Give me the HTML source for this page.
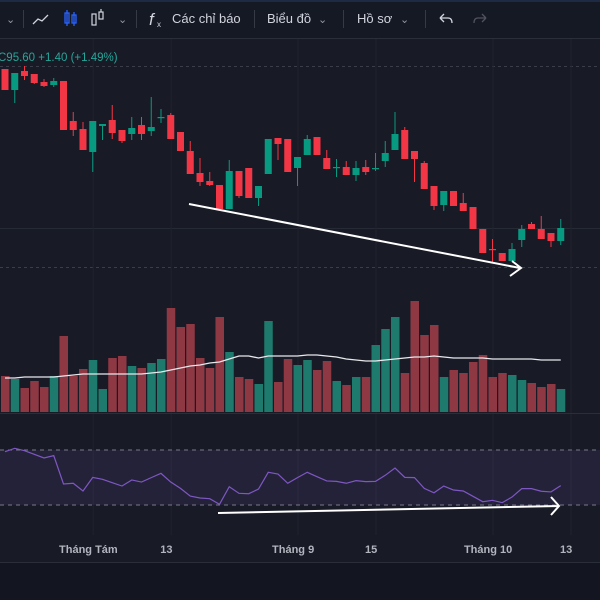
<!DOCTYPE html>
<html><head><meta charset="utf-8">
<style>
html,body{margin:0;padding:0;background:#161a25;width:600px;height:600px;overflow:hidden;font-family:"Liberation Sans","Noto Sans CJK SC",sans-serif}
svg{display:block}
text{font-family:"Liberation Sans","Noto Sans CJK SC",sans-serif}
</style></head>
<body>
<svg id="chart" width="600" height="600" viewBox="0 0 600 600">
  <rect x="0" y="0" width="600" height="600" fill="#161a25"/>
  <rect x="0" y="0" width="600" height="38" fill="#151924"/>
  <rect x="0" y="0" width="600" height="2" fill="#1e2a44"/>
  <line x1="0" y1="38.5" x2="600" y2="38.5" stroke="#2a2e39"/>
  <g fill="#d1d4dc" font-size="13">
    <text x="6" y="23" font-size="11" fill="#9598a1">⌄</text>
    <line x1="23.5" y1="10" x2="23.5" y2="28" stroke="#363a45"/>
    <polyline points="33,24 38,19 42,21 48,15" fill="none" stroke="#d1d4dc" stroke-width="1.3"/>
    <g stroke="#2962ff" fill="none" stroke-width="1.3">
      <rect x="65" y="13" width="4" height="10"/><line x1="67" y1="10" x2="67" y2="26"/>
      <rect x="72" y="15" width="4" height="8"/><line x1="74" y1="12" x2="74" y2="26"/>
    </g>
    <g stroke="#d1d4dc" fill="none" stroke-width="1.2">
      <rect x="92" y="14" width="4" height="11"/><rect x="99" y="12" width="4" height="7"/><line x1="101" y1="9" x2="101" y2="12"/>
    </g>
    <text x="118" y="23" font-size="11" fill="#9598a1">⌄</text>
    <line x1="136.5" y1="10" x2="136.5" y2="28" stroke="#363a45"/>
    <text x="149" y="25" font-size="17" font-style="italic" font-family="Liberation Serif">f</text>
    <text x="157" y="27" font-size="8">x</text>
    <text x="172" y="23">Các chỉ báo</text>
    <line x1="254.5" y1="10" x2="254.5" y2="28" stroke="#363a45"/>
    <text x="267" y="23">Biểu đồ</text>
    <text x="318" y="23" font-size="11" fill="#9598a1">⌄</text>
    <line x1="343.5" y1="10" x2="343.5" y2="28" stroke="#363a45"/>
    <text x="357" y="23">Hồ sơ</text>
    <text x="400" y="23" font-size="11" fill="#9598a1">⌄</text>
    <line x1="425.5" y1="10" x2="425.5" y2="28" stroke="#363a45"/>
    <path d="M440 18 L444 14 M440 18 L444 22 M440 18 L448 18 Q452 18 452 23" fill="none" stroke="#d1d4dc" stroke-width="1.3"/>
    <path d="M486 18 L482 14 M486 18 L482 22 M486 18 L478 18 Q474 18 474 23" fill="none" stroke="#50535e" stroke-width="1.3"/>
  </g>
  <rect x="0" y="39" width="600" height="524" fill="#181b26"/>
  <rect x="0" y="563" width="600" height="37" fill="#131620"/>
  <line x1="0" y1="562.5" x2="600" y2="562.5" stroke="#2a2e39"/>
  <g id="grid"></g>
  <g id="vol"></g>
  <g id="candles"></g>
  <line x1="0" y1="413.5" x2="600" y2="413.5" stroke="#2a2e39"/>
  <g id="rsi"></g>
  <g id="axis"></g>
  <g id="draw"></g>
  <text x="-2" y="61" font-size="11.5" fill="#26a69a"><tspan fill="#26a69a">C95.60</tspan> +1.40 (+1.49%)</text>
</svg>
<script>
// Price data (price units), one entry per session
const opens  = [93.1,91.0,92.9,92.6,91.8,91.5,91.9,87.9,87.1,84.8,87.4,88.0,87.0,86.6,87.5,86.9,88.2,88.5,86.8,84.9,82.7,81.9,81.5,79.1,82.9,83.2,80.2,82.6,86.2,86.1,83.2,84.5,86.3,84.2,83.3,83.3,82.5,83.3,83.2,83.9,85.0,87.0,84.9,83.7,81.4,79.5,80.9,79.7,79.3,77.1,75.1,74.7,73.9,76.0,77.6,77.1,76.7,75.9];
const closes = [91.0,92.7,92.4,91.7,91.4,91.9,87.0,87.0,85.0,87.9,87.6,86.7,85.9,87.2,86.6,87.3,88.3,86.1,84.9,82.6,81.8,81.5,79.1,82.9,80.4,80.2,81.4,86.1,85.6,82.8,84.3,86.1,84.5,83.1,83.3,82.5,83.2,82.8,83.2,84.7,86.6,84.1,84.1,81.1,79.4,80.9,79.4,78.9,77.1,74.7,75.0,73.9,75.1,77.1,77.1,76.1,75.9,77.2];
const highs  = [93.1,92.7,93.4,92.6,92.1,92.2,91.9,88.8,87.8,87.9,87.6,89.5,87.0,88.3,88.3,90.3,89.1,88.7,86.8,85.9,84.2,82.8,81.5,84.0,82.9,83.2,81.4,86.1,86.2,86.1,84.3,86.5,86.3,85.0,84.1,83.9,83.9,84.0,84.7,85.9,88.8,87.3,84.9,83.9,81.4,80.9,80.9,80.7,79.3,77.1,76.1,74.7,75.7,77.5,77.8,78.4,76.7,78.1];
const lows   = [91.0,89.7,92.0,91.6,91.3,91.3,87.0,86.4,85.0,82.8,86.0,86.1,85.7,86.0,86.0,86.4,87.7,86.1,84.9,82.6,81.4,81.4,79.1,79.1,80.2,80.2,79.4,82.6,84.0,82.8,81.4,84.5,84.5,83.1,82.3,82.5,81.9,82.5,82.9,83.3,85.0,84.1,81.8,81.1,79.0,78.9,79.4,78.9,77.1,74.7,73.8,73.9,73.9,75.3,77.1,76.1,75.3,75.5];
const volumes = [36,33,24,31,25,36,76,36,43,52,23,54,56,46,44,49,53,104,85,88,54,44,95,60,35,33,28,91,30,53,47,52,42,51,31,27,35,35,67,83,95,39,111,77,87,35,42,39,50,57,35,39,37,32,29,25,28,23];
const volMA = [34,34,35,35,35,35,36,37,38,38,38,38,38,38,38,39,40,42,44,46,47,49,50,53,56,56,54,56,56,56,56,57,57,56,55,53,52,51,51,52,53,54,55,55,56,55,54,54,54,54,53,53,53,53,53,52,52,52];
const rsiValues = [68.8,71.2,69.5,66.9,64.2,65.9,45.3,45.8,40.2,50.1,48.7,46.2,43.8,48.2,46.7,49.9,53.0,46.7,42.1,36.5,35.1,34.6,30.5,43.3,38.5,38.2,41.6,53.8,52.5,45.8,49.9,53.8,50.6,47.5,47.2,45.8,47.7,47.0,47.2,51.6,56.9,50.1,49.9,42.1,38.9,43.8,40.9,40.2,36.3,32.4,33.4,31.7,35.8,41.9,41.9,40.0,39.5,44.1];
const timeLabels = ["Tháng Tám","13","Tháng 9","15","Tháng 10","13"];
const timeLabelIdx = [9,17,30,38,50,58];
const rsiBands = [70,30];

const NS="http://www.w3.org/2000/svg";
function mk(tag, attrs, parent){const e=document.createElementNS(NS,tag);for(const k in attrs)e.setAttribute(k,attrs[k]);parent.appendChild(e);return e;}
const xAt = i => 5 + i*9.75;
const yPrice = p => (100 - p)*10;
const yVol = v => 412 - v;
const yRsi = r => 505 - (r-30)/40*55;
const UP="#089981", DN="#f23645", VUP="#1e7a6c", VDN="#8e3844";

// grid
const grid=document.getElementById('grid');
[[66,"3 3"],[228,""],[267,"3 3"]].forEach(g=>{
  const l=mk('line',{x1:0,x2:600,y1:g[0]+0.5,y2:g[0]+0.5,stroke:g[1]?"#3a3e4a":"#262a35","stroke-dasharray":g[1]},grid);
  
  
});
timeLabelIdx.forEach(i=>{
  const l=mk('line',{x1:xAt(i)+0.5,x2:xAt(i)+0.5,y1:39,y2:535,stroke:"#1f232e"},grid);
  
  
});

// volume
const vol=document.getElementById('vol');
volumes.forEach((v,i)=>{
  const up=closes[i]>=opens[i];
  const r=mk('rect',{x:xAt(i)-4,y:yVol(v),width:8.5,height:v,fill:up?VUP:VDN},vol);
  
  
});
const vma=mk('polyline',{points:volMA.map((v,i)=>xAt(i)+","+yVol(v)).join(" "),fill:"none",stroke:"#e8e8ec","stroke-width":1.3},vol);



// candles
const cg=document.getElementById('candles');
opens.forEach((o,i)=>{
  const c=closes[i], up=c>=o, col=up?UP:DN, x=xAt(i);
  const g=mk('g',{},cg);
  
  
  mk('line',{x1:x,x2:x,y1:yPrice(highs[i]),y2:yPrice(lows[i]),stroke:col,"stroke-width":1},g);
  const top=Math.min(yPrice(o),yPrice(c)), h=Math.max(1.2,Math.abs(yPrice(o)-yPrice(c)));
  mk('rect',{x:x-3.5,y:top,width:7,height:h,fill:col},g);
});

// rsi
const rg=document.getElementById('rsi');
const band=mk('rect',{x:0,y:yRsi(rsiBands[0]),width:600,height:yRsi(rsiBands[1])-yRsi(rsiBands[0]),fill:"rgba(126,87,194,0.12)"},rg);


rsiBands.forEach(b=>{
  const l=mk('line',{x1:0,x2:600,y1:yRsi(b),y2:yRsi(b),stroke:"#787b86","stroke-dasharray":"4 4","stroke-width":1},rg);
  
  
});
const rl=mk('polyline',{points:rsiValues.map((r,i)=>xAt(i)+","+yRsi(r)).join(" "),fill:"none",stroke:"#7e57c2","stroke-width":1.2},rg);



// time axis
const ax=document.getElementById('axis');
timeLabels.forEach((t,i)=>{
  const tx=mk('text',{x:xAt(timeLabelIdx[i]-0.45),y:553,"text-anchor":"middle","font-size":"11","font-weight":"bold",fill:"#b2b5be"},ax);
  tx.textContent=t;
  
  
});

// drawings (trend arrows)
const dg=document.getElementById('draw');
const a1=mk('path',{d:"M189 204 L520 268 M512 261 L521 268 L510 276",fill:"none",stroke:"#ffffff","stroke-width":2},dg);


const a2=mk('path',{d:"M218 513 L559 506 M551 497 L559 506 L551 515",fill:"none",stroke:"#ffffff","stroke-width":2},dg);


</script>
</body></html>
